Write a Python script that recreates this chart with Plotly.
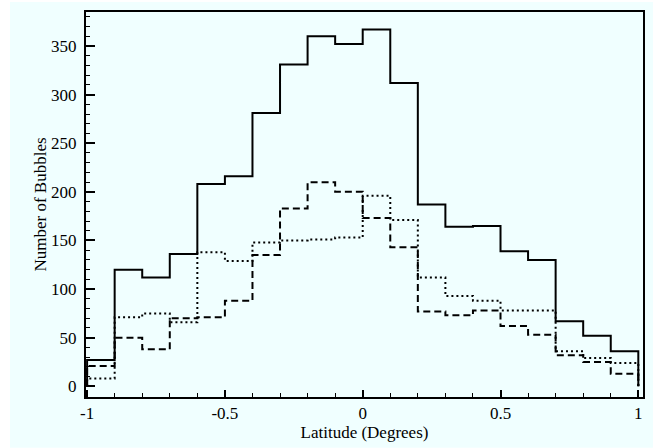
import plotly.graph_objects as go

bin_edges = [round(-1 + 0.1 * i, 1) for i in range(21)]
solid_counts = [27, 120, 112, 136, 208, 216, 281, 331, 360, 352, 367, 312, 187, 164, 165, 139, 130, 67, 52, 36]
dotted_counts = [8, 71, 75, 66, 138, 129, 148, 150, 151, 153, 196, 171, 112, 93, 88, 78, 78, 36, 29, 24]
dashed_counts = [21, 50, 38, 70, 71, 88, 135, 183, 210, 200, 173, 143, 77, 73, 78, 62, 53, 32, 25, 13]

series = [
    ("solid", solid_counts, "solid"),
    ("dotted", dotted_counts, "2px,3px"),
    ("dashed", dashed_counts, "7px,4px"),
]

fig = go.Figure()
for name, counts, dash in series:
    xs = [bin_edges[0]] + bin_edges + [bin_edges[-1]]
    ys = [0] + counts + [counts[-1]] + [0]
    fig.add_trace(go.Scatter(x=xs, y=ys, mode="lines", line_shape="hv",
                             line=dict(color="black", width=2, dash=dash),
                             name=name, showlegend=False))

W, H = 659, 448
L, R, T, B = 86, 16, 10, 51
pw, ph = W - L - R, H - T - B

def px2paper_x(p):
    return (p - L) / pw

def px2paper_y(p):
    return (H - B - p) / ph

fig.add_shape(type="rect", xref="paper", yref="paper",
              x0=px2paper_x(10), x1=px2paper_x(653), y0=px2paper_y(448), y1=px2paper_y(0),
              fillcolor="#F0FFFF", line=dict(width=0), layer="below")

font_family = "Liberation Serif"
fig.update_layout(
    width=W, height=H,
    margin=dict(l=L, r=R, t=T, b=B),
    paper_bgcolor="white",
    plot_bgcolor="#F0FFFF",
    font=dict(family=font_family, size=17, color="black"),
    xaxis=dict(range=[-1.004, 1.017], tickvals=[-1, -0.5, 0, 0.5, 1],
               ticktext=["-1", "-0.5", "0", "0.5", "1"],
               ticks="inside", ticklen=7, tickwidth=2, tickcolor="black",
               minor=dict(dtick=0.1, tick0=0, ticks="inside", ticklen=4, tickwidth=1, tickcolor="black"),
               showline=True, linecolor="black", linewidth=2, mirror=True,
               showgrid=False, zeroline=False,
               title=dict(text="Latitude (Degrees)", font=dict(size=17), standoff=1),
               tickfont=dict(size=17)),
    yaxis=dict(range=[-11, 385], tickvals=[0, 50, 100, 150, 200, 250, 300, 350],
               ticks="inside", ticklen=9, tickwidth=2, tickcolor="black",
               minor=dict(dtick=10, tick0=0, ticks="inside", ticklen=4, tickwidth=1, tickcolor="black"),
               showline=True, linecolor="black", linewidth=2, mirror=True,
               showgrid=False, zeroline=False, ticklabelstandoff=4,
               title=dict(text="Number of Bubbles", font=dict(size=17), standoff=0),
               tickfont=dict(size=17)),
)

fig.write_html("out.html")
